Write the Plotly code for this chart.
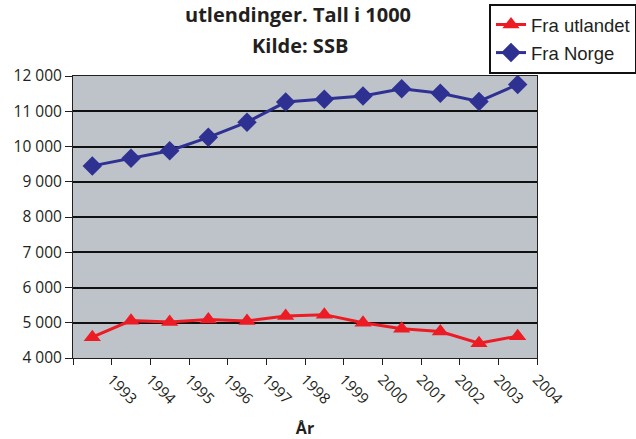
import plotly.graph_objects as go

years = [1993, 1994, 1995, 1996, 1997, 1998, 1999, 2000, 2001, 2002, 2003, 2004]
fra_utlandet = [4590, 5060, 5020, 5090, 5050, 5190, 5230, 5000, 4830, 4750, 4420, 4620]
fra_norge = [9450, 9670, 9880, 10260, 10690, 11260, 11340, 11430, 11640, 11510, 11280, 11760]
y_ticks = [4000, 5000, 6000, 7000, 8000, 9000, 10000, 11000, 12000]
title_lines = ["utlendinger. Tall i 1000", "Kilde: SSB"]

# points sit in the middle of each category, labels at the right boundary
xpos = [y - 0.5 for y in years]
tickvals = [years[0] - 1] + years
ticktext = [""] + [str(y) for y in years]

fig = go.Figure()
fig.add_trace(go.Scatter(
    x=xpos, y=fra_utlandet, name="Fra utlandet", mode="lines+markers",
    legendgroup="a",
    line=dict(color="#ED1C24", width=3),
    marker=dict(symbol="triangle-up", size=15, color="#ED1C24"),
))
fig.add_trace(go.Scatter(
    x=xpos, y=fra_norge, name="Fra Norge", mode="lines+markers",
    legendgroup="b",
    line=dict(color="#2E3192", width=3),
    marker=dict(symbol="diamond", size=15, color="#2E3192"),
))

font_main = "Open Sans, Lato, sans-serif"
W, H = 636, 439
left, right = 73, 99
top, bottom = 76, 81
plot_w = W - left - right
plot_h = H - top - bottom

def px(pix):
    return (pix - left) / plot_w

def py(pix):
    return 1 + (top - pix) / plot_h

annotations = [
    dict(text="<b>" + title_lines[0] + "</b>", x=px(298), y=py(15), xref="paper", yref="paper",
         xanchor="center", yanchor="middle", showarrow=False,
         font=dict(family=font_main, size=20, color="#231F20")),
    dict(text="<b>" + title_lines[1] + "</b>", x=px(300), y=py(45), xref="paper", yref="paper",
         xanchor="center", yanchor="middle", showarrow=False,
         font=dict(family=font_main, size=20, color="#231F20")),
]

fig.update_layout(
    width=W, height=H,
    margin=dict(l=left, r=right, t=top, b=bottom, autoexpand=False),
    paper_bgcolor="white",
    plot_bgcolor="#BEC3CA",
    separators=", ",
    annotations=annotations,
    legend=dict(
        x=px(637), xanchor="right", y=py(4), yanchor="top",
        xref="paper", yref="paper",
        bgcolor="white", bordercolor="#111111", borderwidth=2,
        font=dict(family="Liberation Sans, Arial, sans-serif", size=18.5, color="#231F20"),
        tracegroupgap=1,
    ),
    showlegend=True,
)
fig.update_xaxes(
    range=[years[0] - 1, years[-1]],
    tickmode="array", tickvals=tickvals, ticktext=ticktext,
    tickangle=45,
    ticks="outside", ticklen=6, tickcolor="#231F20",
    showline=True, linecolor="#231F20", linewidth=1, mirror=True,
    showgrid=False, zeroline=False, automargin=False,
    tickfont=dict(family=font_main, size=15, color="#231F20"),
    title=dict(text="<b>År</b>", font=dict(family=font_main, size=16, color="#231F20"), standoff=26),
)
fig.update_yaxes(
    range=[4000, 12000],
    tickmode="array", tickvals=y_ticks, tickformat=",d",
    ticks="outside", ticklen=7, tickcolor="#231F20",
    showline=True, linecolor="#231F20", linewidth=1, mirror=True,
    showgrid=True, gridcolor="#111111", gridwidth=1.5, zeroline=False, automargin=False,
    tickfont=dict(family=font_main, size=15.5, color="#231F20"),
)

fig.write_html(
    "out.html",
    config={"displayModeBar": False},
    post_script="document.body.style.margin='0px';document.body.style.overflow='hidden';",
)
